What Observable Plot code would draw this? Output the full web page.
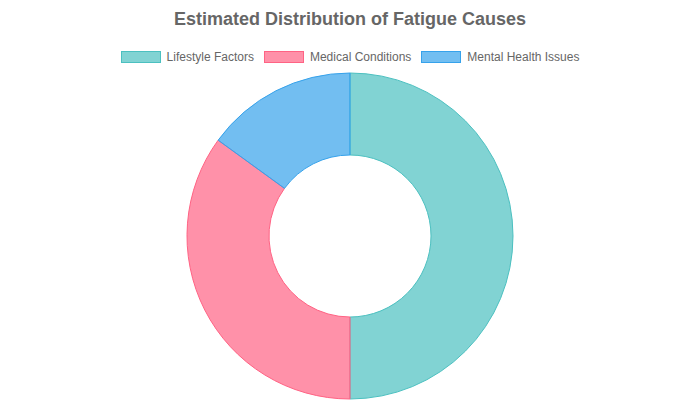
<!DOCTYPE html>
<html>
<head>
<meta charset="utf-8">
<script src="https://cdn.jsdelivr.net/npm/d3@7"></script>
<script src="https://cdn.jsdelivr.net/npm/@observablehq/plot@0.6"></script>
<style>
  body { margin: 0; background: #fff; font-family: "Liberation Sans", Arial, sans-serif; }
  #wrap { position: relative; width: 700px; height: 400px; overflow: hidden; }
  #title { position: absolute; top: 8px; left: 0; width: 700px; text-align: center; font-size: 18px; font-weight: bold; color: #666; line-height: 22px; }
  #legend { position: absolute; top: 50px; left: 0; width: 700px; display: flex; justify-content: center; gap: 10px; font-size: 12px; color: #666; line-height: 14px; }
  .item { display: flex; align-items: center; }
  .sw { width: 38px; height: 10px; margin-right: 6px; }
  #chart { position: absolute; top: 72px; left: 0; }
</style>
</head>
<body>
<div id="wrap">
  <div id="title"></div>
  <div id="legend"></div>
  <div id="chart"></div>
</div>
<script>
const title = "Estimated Distribution of Fatigue Causes";
const categories = ["Lifestyle Factors", "Medical Conditions", "Mental Health Issues"];
const values = [50, 35, 15];
const fills = ["rgba(75,192,192,0.7)", "rgba(255,99,132,0.7)", "rgba(54,162,235,0.7)"];
const strokes = ["rgb(75,192,192)", "rgb(255,99,132)", "rgb(54,162,235)"];

const data = categories.map((c, i) => ({category: c, value: values[i]}));

document.getElementById("title").textContent = title;
const legend = document.getElementById("legend");
categories.forEach((c, i) => {
  const it = document.createElement("div");
  it.className = "item";
  const sw = document.createElement("div");
  sw.className = "sw";
  sw.style.background = fills[i];
  sw.style.border = "1px solid " + strokes[i];
  const t = document.createElement("span");
  t.textContent = c;
  it.appendChild(sw); it.appendChild(t);
  legend.appendChild(it);
});

const strokeScale = d3.scaleOrdinal(categories, strokes);

function donut(index, scales, values, dimensions) {
  const {width, height, marginTop, marginBottom} = dimensions;
  const cx = width / 2;
  const cy = marginTop + (height - marginTop - marginBottom) / 2;
  const outer = 163, inner = 81;
  const pie = d3.pie().sort(null).value(d => d.value)(data);
  const arc = d3.arc().innerRadius(inner).outerRadius(outer);
  const g = d3.create("svg:g").attr("transform", `translate(${cx},${cy})`);
  g.selectAll("path").data(pie).join("path")
    .attr("d", arc)
    .attr("fill", d => scales.color(d.data.category))
    .attr("stroke", d => strokeScale(d.data.category))
    .attr("stroke-width", 1);
  return g.node();
}

const plot = Plot.plot({
  width: 700,
  height: 328,
  margin: 0,
  x: {axis: null, domain: [0, 1]},
  y: {axis: null, domain: [0, 1]},
  color: {type: "ordinal", domain: categories, range: fills},
  marks: [
    Plot.dot(data, {x: () => 0.5, y: () => 0.5, fill: "category", r: 0}),
    donut
  ]
});
document.getElementById("chart").appendChild(plot);
</script>
</body>
</html>
